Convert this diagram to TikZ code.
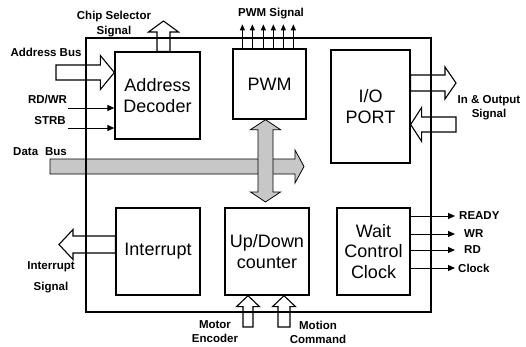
\documentclass[tikz,border=0pt]{standalone}
\usepackage{fontspec}
\setmainfont{Liberation Sans}
\usetikzlibrary{calc,arrows.meta}

% hollow block arrow: [style]{from}{to}{half shaft}{half head}{head length}
\newcommand{\blockarrow}[6][]{%
  \coordinate (ba-hb) at ($(#3)!#6!(#2)$);
  \draw[#1] ($(#2)!#4!90:(#3)$) -- ($(ba-hb)!#4!90:(#3)$)
    -- ($(ba-hb)!#5!90:(#3)$) -- (#3) -- ($(ba-hb)!#5!-90:(#3)$)
    -- ($(ba-hb)!#4!-90:(#3)$) -- ($(#2)!#4!-90:(#3)$) -- cycle;
}
% same, with a head at both ends
\newcommand{\dblarrow}[6][]{%
  \coordinate (da-h1) at ($(#2)!#6!(#3)$);
  \coordinate (da-h2) at ($(#3)!#6!(#2)$);
  \draw[#1] (#2) -- ($(da-h1)!#5!90:(#3)$) -- ($(da-h1)!#4!90:(#3)$)
    -- ($(da-h2)!#4!-90:(#2)$) -- ($(da-h2)!#5!-90:(#2)$) -- (#3)
    -- ($(da-h2)!#5!90:(#2)$) -- ($(da-h2)!#4!90:(#2)$)
    -- ($(da-h1)!#4!-90:(#3)$) -- ($(da-h1)!#5!-90:(#3)$) -- cycle;
}

\begin{document}
\begin{tikzpicture}[x=1pt, y=-1pt,
    blk/.style={draw, line width=1.3pt, inner sep=0pt, align=center,
      font=\fontsize{18}{20.5}\selectfont},
    lbl/.style={inner sep=0pt, align=center,
      font=\bfseries\fontsize{11.5}{14}\selectfont},
    sig/.style={line width=1pt, -{Triangle[length=7pt,width=6pt]}},
    pwmsig/.style={line width=1pt, -{Triangle[length=6pt,width=5pt]}},
    hollow/.style={line width=1.1pt, line join=miter},
    shaded/.style={line width=0.8pt, fill=black!22}]
    \useasboundingbox (0,0) rectangle (526,346);

    % Data bus runs under the frame
    \coordinate (dbus) at (50,166.5);
    \coordinate (dbus-tip) at (304,166.5);
    \blockarrow[shaded]{dbus}{dbus-tip}{7.5pt}{16.5pt}{9pt}
    \node[lbl] (dbus-lbl) at (40,152) {Data\hspace{0.6em}Bus};

    % Frame and blocks
    \node[draw, line width=1.3pt, minimum width=345pt, minimum height=274pt] (mcu) at (258.5,175) {};
    \node[blk, minimum width=85pt, minimum height=87pt] (dec) at (157.5,95.5) {Address\\Decoder};
    \node[blk, minimum width=73pt, minimum height=70pt] (pwm) at (269.5,84) {PWM};
    \node[blk, minimum width=79pt, minimum height=113pt] (io) at (370.5,106.5) {I/O\\PORT};
    \node[blk, minimum width=84pt, minimum height=87pt] (intr) at (158,251.5) {Interrupt};
    \node[blk, minimum width=84pt, minimum height=87pt] (updn) at (267,251.5) {Up/Down\\counter};
    \node[blk, minimum width=73pt, minimum height=87pt] (wait) at (373.5,251.5) {Wait\\Control\\Clock};

    % PWM <-> counter
    \coordinate (vb-top) at ($(pwm.south)+(-4,0)$);
    \coordinate (vb-bot) at (265.5,202);
    \dblarrow[shaded]{vb-top}{vb-bot}{7.5pt}{15pt}{10pt}

    % Address decoder
    \coordinate (cs-tip) at (163.5,21);
    \coordinate (cs-base) at (cs-tip |- dec.north);
    \blockarrow[hollow]{cs-base}{cs-tip}{6.5pt}{15pt}{11pt}
    \node[lbl, font=\bfseries\fontsize{11.5}{15}\selectfont] (cs-lbl) at (114,24) {Chip Selector\\Signal};
    \coordinate (ab-tail) at (56,72.5);
    \coordinate (ab-tip) at (dec.west |- ab-tail);
    \blockarrow[hollow]{ab-tail}{ab-tip}{7.5pt}{17pt}{14pt}
    \node[lbl] (ab-lbl) at (46,52) {Address Bus};
    \coordinate (rdwr) at (68,108);
    \draw[sig] (rdwr) -- (dec.west |- rdwr);
    \node[lbl] (rdwr-lbl) at (47.5,99) {RD/WR};
    \coordinate (strb) at (68,128);
    \draw[sig] (strb) -- (dec.west |- strb);
    \node[lbl] (strb-lbl) at (50,121) {STRB};

    % PWM outputs
    \foreach \dx [count=\i] in {10,20,31,41,51,61} {
        \coordinate (pwm-o\i) at ($(pwm.north west)+(\dx,-24)$);
        \draw[pwmsig] (pwm.north west -| pwm-o\i) -- (pwm-o\i);
    }
    \node[lbl] (pwm-lbl) at (271,14) {PWM Signal};

    % I/O port
    \coordinate (io-o) at (456,83);
    \coordinate (io-ob) at (io.east |- io-o);
    \blockarrow[hollow]{io-ob}{io-o}{8pt}{16pt}{11pt}
    \coordinate (io-i) at (456,124.5);
    \coordinate (io-ib) at (io.east |- io-i);
    \blockarrow[hollow]{io-i}{io-ib}{7.5pt}{17pt}{11pt}
    \node[lbl] (io-lbl) at (489,108) {In \& Output\\Signal};

    % Interrupt
    \coordinate (int-o) at (59,244.5);
    \coordinate (int-ob) at (intr.west |- int-o);
    \blockarrow[hollow]{int-ob}{int-o}{8.5pt}{15pt}{14pt}
    \node[lbl, font=\bfseries\fontsize{11.5}{21}\selectfont] (int-lbl) at (51,277.5) {Interrupt\\Signal};

    % Counter inputs
    \coordinate (me) at (248,327);
    \coordinate (me-tip) at (me |- updn.south);
    \blockarrow[hollow]{me}{me-tip}{5pt}{11.5pt}{11pt}
    \coordinate (mc) at (284,327);
    \coordinate (mc-tip) at (mc |- updn.south);
    \blockarrow[hollow]{mc}{mc-tip}{6pt}{11.5pt}{11pt}
    \node[lbl] (me-lbl) at (215,332) {Motor\\Encoder};
    \node[lbl] (mc-lbl) at (318,332) {Motion\\Command};

    % Wait control outputs
    \foreach \y/\txt/\lx [count=\i] in {216/READY/459,234/WR/464,250/RD/464,268/Clock/458} {
        \coordinate (w-o\i) at (455,\y);
        \draw[sig] (wait.east |- w-o\i) -- (w-o\i);
        \node[lbl, anchor=west] (w-lbl\i) at (\lx,\y) {\txt};
    }
\end{tikzpicture}
\end{document}
